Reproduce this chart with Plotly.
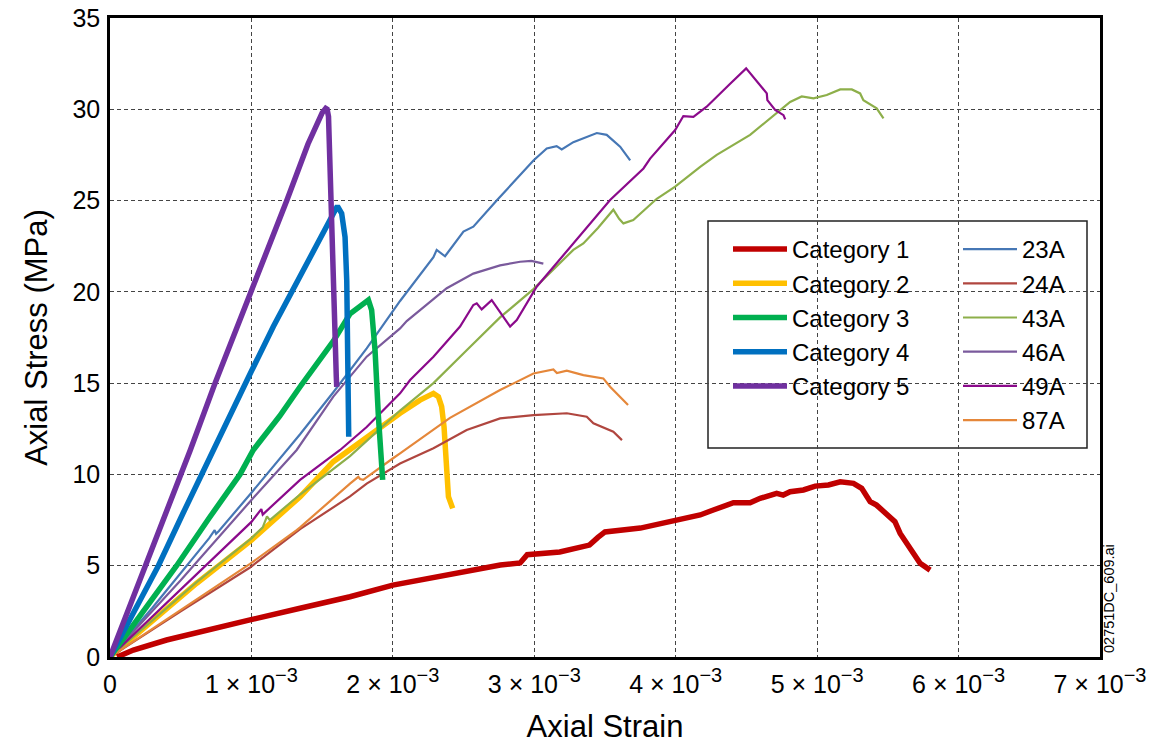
import numpy as np
import plotly.graph_objects as go

# ---- data (strain in units of 1e-3, stress in MPa) ----
cat1_strain = [0.05, 0.165, 0.4, 0.636, 0.99, 1.344, 1.697, 2.0, 2.4, 2.76, 2.9, 2.95, 3.18, 3.39, 3.45, 3.5, 3.75, 4.0,
               4.173, 4.266, 4.408, 4.526, 4.597, 4.714, 4.76, 4.809, 4.903, 4.986, 5.08, 5.163, 5.257, 5.315, 5.375,
               5.42, 5.49, 5.55, 5.587, 5.634, 5.705, 5.728, 5.799]
cat1_stress = [0, 0.38, 0.93, 1.39, 2.03, 2.67, 3.3, 3.94, 4.5, 5.04, 5.15, 5.6, 5.75, 6.13, 6.55, 6.85, 7.06, 7.45,
               7.78, 8.05, 8.45, 8.45, 8.69, 8.96, 8.87, 9.05, 9.15, 9.36, 9.42, 9.6, 9.51, 9.24, 8.51,
               8.32, 7.78, 7.41, 6.77, 6.22, 5.5, 5.13, 4.76]

cat2_strain = [0, 0.3, 0.613, 1.0, 1.344, 1.579, 1.815, 2.051, 2.192, 2.26, 2.287, 2.322, 2.345, 2.362, 2.373, 2.381, 2.393, 2.423]
cat2_stress = [0, 2.0, 4.04, 6.4, 8.78, 10.7, 12.06, 13.35, 14.07, 14.35, 14.44, 14.26, 13.71, 12.6, 11.34, 9.51, 8.78, 8.14]

cat3_strain = [0, 0.2, 0.471, 0.70, 0.919, 1.013, 1.20, 1.344, 1.462, 1.579, 1.697, 1.768, 1.815, 1.827, 1.85, 1.874, 1.898, 1.928]
cat3_stress = [0, 2.1, 5.0, 7.6, 10.0, 11.34, 13.2, 14.8, 16.08, 17.3, 18.8, 19.2, 19.5, 19.55, 19.0, 16.8, 13.16, 9.7]

cat4_strain = [0, 0.1, 0.342, 0.518, 0.743, 0.99, 1.155, 1.344, 1.485, 1.579, 1.608, 1.638, 1.662, 1.674, 1.682, 1.688]
cat4_stress = [0, 1.5, 5.0, 7.9, 11.6, 15.5, 18.1, 20.8, 22.8, 24.3, 24.7, 24.3, 23.0, 20.6, 15.35, 12.06]

cat5_strain = [0, 0.10, 0.25, 0.34, 0.507, 0.566, 0.743, 0.99, 1.10, 1.25, 1.40, 1.462, 1.50, 1.525, 1.535, 1.545, 1.556, 1.575, 1.59, 1.60, 1.603]
cat5_stress = [0, 2.0, 5.0, 6.8, 10.0, 11.3, 15.0, 19.8, 22.0, 25.0, 28.1, 29.2, 29.8, 30.05, 30.0, 29.6, 26.1, 21.5, 18.0, 15.35, 14.8]

s23A_strain = [0, 0.3, 0.70, 0.74, 0.75, 0.77, 1.0, 1.25, 1.344, 1.579, 1.815, 2.051, 2.287, 2.31, 2.369, 2.499, 2.569, 2.734,
               2.994, 3.088, 3.158, 3.194, 3.276, 3.442, 3.512, 3.607, 3.678]
s23A_stress = [0, 2.7, 6.5, 6.95, 6.75, 6.9, 9.0, 11.34, 12.2, 14.5, 16.9, 19.5, 21.9, 22.3, 21.95, 23.3, 23.57, 25.0,
               27.2, 27.85, 27.98, 27.8, 28.2, 28.7, 28.6, 27.95, 27.2]

s24A_strain = [0, 0.5, 0.99, 1.344, 1.697, 1.815, 2.051, 2.287, 2.522, 2.758, 2.994, 3.10, 3.23, 3.371, 3.418, 3.559, 3.62]
s24A_stress = [0, 2.5, 4.9, 7.0, 8.8, 9.5, 10.6, 11.43, 12.43, 13.07, 13.25, 13.3, 13.35, 13.16, 12.8, 12.34, 11.88]

s43A_strain = [0, 0.3, 0.613, 1.0, 1.08, 1.11, 1.13, 1.344, 1.697, 2.051, 2.287, 2.522, 2.758, 2.994, 3.276, 3.347, 3.45,
               3.559, 3.60, 3.63, 3.70, 3.866, 3.996, 4.173, 4.29, 4.526, 4.714, 4.809, 4.891, 4.974, 5.068, 5.163,
               5.245, 5.304, 5.327, 5.421, 5.469]
s43A_stress = [0, 2.0, 4.1, 6.5, 7.1, 7.7, 7.5, 8.9, 11.0, 13.5, 15.0, 16.8, 18.6, 20.15, 22.3, 22.65, 23.5,
               24.5, 24.0, 23.75, 23.93, 25.1, 25.76, 26.85, 27.5, 28.6, 29.77, 30.4, 30.7, 30.6, 30.78, 31.09,
               31.09, 30.87, 30.5, 30.05, 29.5]

s46A_strain = [0, 0.5, 1.0, 1.32, 1.579, 1.815, 2.051, 2.098, 2.381, 2.569, 2.758, 2.9, 2.98, 3.064]
s46A_stress = [0, 4.2, 8.6, 11.34, 14.26, 16.45, 18.0, 18.4, 20.2, 21.0, 21.45, 21.65, 21.7, 21.55]

s49A_strain = [0, 0.5, 1.0, 1.07, 1.08, 1.10, 1.344, 1.627, 1.815, 2.051, 2.122, 2.287, 2.475, 2.569, 2.593, 2.628, 2.699,
               2.829, 2.876, 3.017, 3.276, 3.536, 3.772, 3.819, 3.996, 4.054, 4.125, 4.219, 4.385, 4.498, 4.644, 4.648,
               4.703, 4.762, 4.774]
s49A_stress = [0, 3.7, 7.4, 8.1, 7.8, 7.95, 9.7, 11.34, 12.6, 14.44, 15.17, 16.45, 18.1, 19.28, 19.37, 19.04, 19.55,
               18.1, 18.46, 20.28, 22.65, 25.03, 26.76, 27.3, 28.86, 29.63, 29.59, 30.14, 31.4, 32.24, 30.87, 30.5,
               29.96, 29.68, 29.45]

s87A_strain = [0, 0.5, 0.99, 1.32, 1.344, 1.697, 1.756, 1.768, 1.79, 2.004, 2.051, 2.404, 2.687, 2.758, 2.994, 3.135,
               3.16, 3.23, 3.347, 3.488, 3.536, 3.607, 3.663]
s87A_stress = [0, 2.6, 5.1, 6.95, 7.1, 9.5, 9.87, 9.75, 9.7, 10.9, 11.15, 13.1, 14.3, 14.62, 15.53, 15.75,
               15.55, 15.68, 15.44, 15.26, 14.8, 14.26, 13.8]

x_tickvals = [0, 1e-3, 2e-3, 3e-3, 4e-3, 5e-3, 6e-3, 7e-3]
x_ticktext = ["0"] + [f"{i} × 10<sup><span style='font-size:20px'>−3</span></sup>" for i in range(1, 8)]
y_tickvals = [0, 5, 10, 15, 20, 25, 30, 35]

FONT = "Liberation Sans, Arial, sans-serif"

fig = go.Figure()


def add(xs, ys, name, color, width, legend, rank):
    fig.add_trace(go.Scatter(
        x=np.array(xs) * 1e-3, y=ys, mode="lines", name=name,
        line=dict(color=color, width=width),
        legend=legend, legendrank=rank, hoverinfo="skip"))


THICK = 5.5
THIN = 2.2
add(cat2_strain, cat2_stress, "Category 2", "#FFC000", THICK, "legend", 2)
add(s23A_strain, s23A_stress, "23A", "#4677B5", THIN, "legend2", 1)
add(s24A_strain, s24A_stress, "24A", "#B0463F", THIN, "legend2", 2)
add(s43A_strain, s43A_stress, "43A", "#8DAF4A", THIN, "legend2", 3)
add(s46A_strain, s46A_stress, "46A", "#7A5A9C", THIN, "legend2", 4)
add(s49A_strain, s49A_stress, "49A", "#8B0A8B", THIN, "legend2", 5)
add(s87A_strain, s87A_stress, "87A", "#E5873A", THIN, "legend2", 6)
add(cat1_strain, cat1_stress, "Category 1", "#C00000", THICK, "legend", 1)
add(cat3_strain, cat3_stress, "Category 3", "#00B050", THICK, "legend", 3)
add(cat4_strain, cat4_stress, "Category 4", "#0070C0", THICK, "legend", 4)
add(cat5_strain, cat5_stress, "Category 5", "#7030A0", THICK, "legend", 5)

L, R, T, B = 110, 56, 18, 87
W, H = 1156, 744
PW, PH = W - L - R, H - T - B


def px(xp):
    return (xp - L) / PW


def py(yp):
    return (H - B - yp) / PH


axis_common = dict(
    showgrid=True, gridcolor="#444444", griddash="4px,3px", gridwidth=1,
    showline=True, linecolor="black", linewidth=2.5, mirror=True,
    zeroline=False, ticks="", automargin=False,
)

fig.update_layout(
    width=W, height=H, autosize=False,
    margin=dict(l=L, r=R, t=T, b=B),
    paper_bgcolor="white", plot_bgcolor="white",
    font=dict(family=FONT, color="black"),
    xaxis=dict(range=[0, 7e-3], tickvals=x_tickvals, ticktext=x_ticktext,
               tickfont=dict(family=FONT, size=25, color="black"),
               title=dict(text="Axial Strain", font=dict(family=FONT, size=31), standoff=22),
               ticklabelstandoff=3, **axis_common),
    yaxis=dict(range=[0, 35], tickvals=y_tickvals,
               tickfont=dict(family=FONT, size=25, color="black"),
               title=dict(text="Axial Stress (MPa)", font=dict(family=FONT, size=31), standoff=16),
               ticklabelstandoff=2, **axis_common),
    legend=dict(x=px(728), y=py(227), xanchor="left", yanchor="top",
                bgcolor="rgba(0,0,0,0)", font=dict(family=FONT, size=24), itemwidth=54,
                tracegroupgap=0),
    legend2=dict(x=px(958), y=py(227), xanchor="left", yanchor="top",
                 bgcolor="rgba(0,0,0,0)", font=dict(family=FONT, size=24), itemwidth=54,
                 tracegroupgap=0),
    shapes=[dict(type="rect", xref="paper", yref="paper",
                 x0=px(708), x1=px(1087), y0=py(448), y1=py(221),
                 line=dict(color="#222222", width=1.5), fillcolor="white", layer="between")],
    annotations=[dict(text="02751DC_609.ai", xref="paper", yref="paper",
                      x=px(1109), y=py(599), xanchor="center", yanchor="middle",
                      textangle=-90, showarrow=False,
                      font=dict(family=FONT, size=14.5, color="black"))],
    showlegend=True,
)

fig.write_html("out.html")
